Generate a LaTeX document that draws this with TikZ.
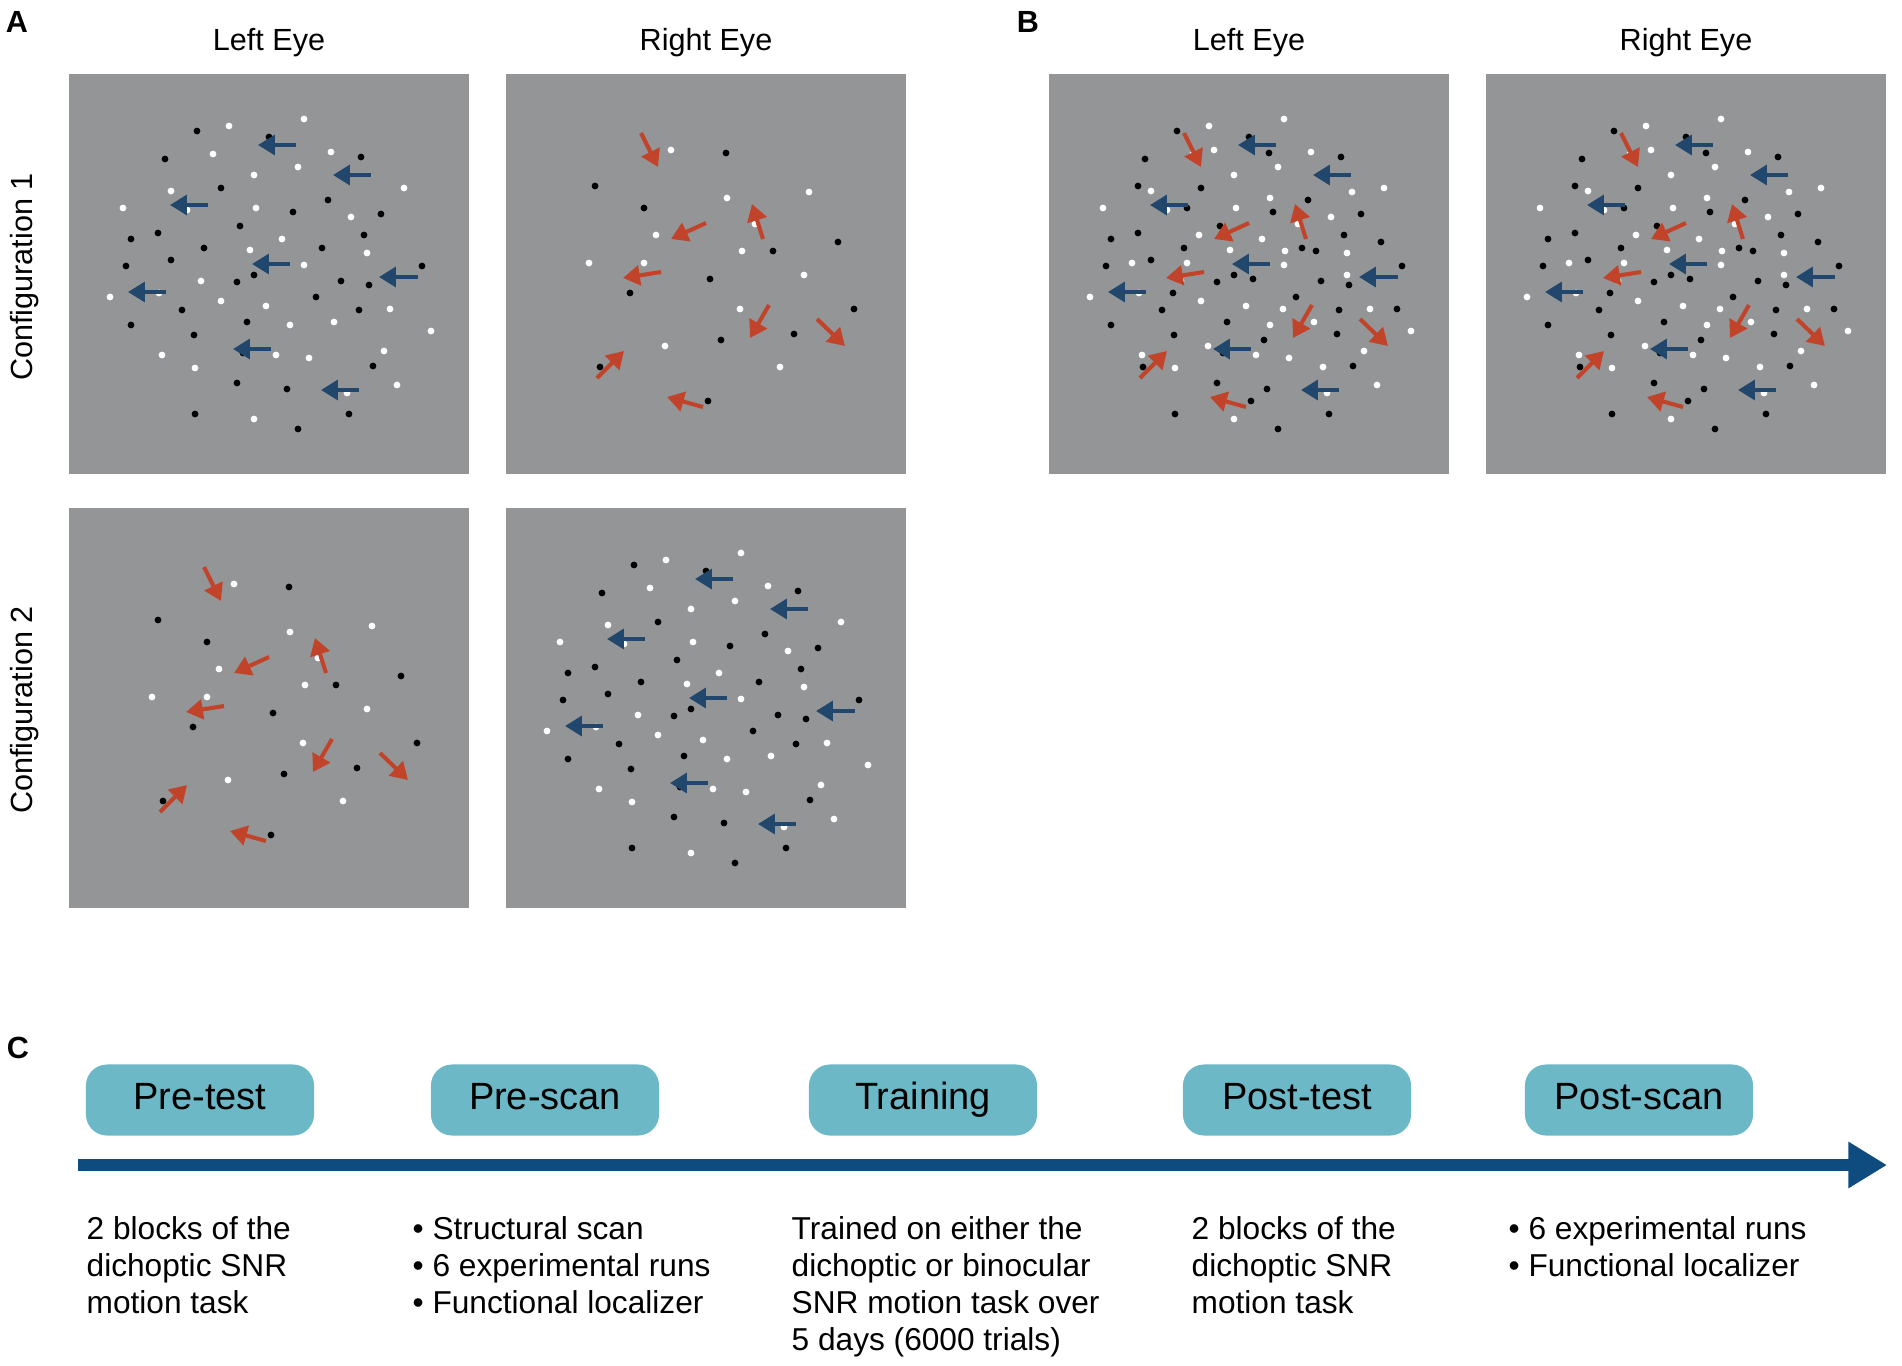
\documentclass[tikz,border=0pt]{standalone}
\usepackage{fontspec}
\setmainfont{Liberation Sans}
\usetikzlibrary{arrows.meta}

\definecolor{panelgray}{RGB}{148,149,151}
\definecolor{leftblue}{RGB}{33,72,108}
\definecolor{rightred}{RGB}{193,68,42}
\definecolor{boxteal}{RGB}{108,184,199}
\definecolor{timeblue}{RGB}{14,76,128}

% dot fields, in pixels from the top left corner of a panel
\newcommand{\whiteA}{235/45, 160/52, 144/80, 262/78, 229/93, 185/101, 335/114, 102/117, 54/134, 187/134, 118/136, 282/143, 213/165, 181/176, 298/179, 235/191, 132/207, 41/223, 90/219, 152/227, 197/232, 321/235, 221/251, 265/248, 362/257, 93/281, 207/281, 240/284, 315/277, 126/294, 278/319, 328/311, 185/345}
\newcommand{\blackA}{128/57, 200/63, 292/83, 96/85, 152/114, 259/126, 224/138, 312/140, 171/152, 89/159, 62/165, 295/161, 135/174, 253/174, 102/186, 57/192, 353/192, 185/201, 168/208, 272/207, 300/211, 247/223, 113/236, 290/236, 62/251, 178/248, 125/261, 174/279, 304/292, 168/309, 218/315, 126/340, 280/340, 229/355}
\newcommand{\arrowsA}{227/71/189/71, 302/101/264/101, 139/131/101/131, 221/190/183/190, 349/203/310/203, 97/218/59/218, 202/275/164/275, 290/316/252/316}
\newcommand{\whiteB}{165/76, 221/124, 303/118, 150/161, 249/150, 236/177, 83/189, 138/189, 298/201, 234/235, 159/272, 274/293}
\newcommand{\blackB}{220/79, 89/112, 138/134, 332/168, 267/177, 204/205, 124/219, 348/235, 288/260, 215/266, 94/293, 202/327}
\newcommand{\arrowsB}{135/59/152/93, 200/149/165/165, 257/165/246/130, 155/198/117/204, 263/231/244/264, 311/245/339/272, 91/304/118/277, 197/333/161/323}

\newcommand{\dotfield}[2]{%
  \foreach \x/\y in #1 \fill[white] (\x,\y) circle[radius=3.4];
  \foreach \x/\y in #2 \fill[black] (\x,\y) circle[radius=3.4];}
\newcommand{\motion}[2]{%
  \foreach \a/\b/\c/\d in #1 \draw[motionarrow,#2] (\a,\b) -- (\c,\d);}

\begin{document}
\begin{tikzpicture}[x=0.01cm,y=-0.01cm,
    motionarrow/.style={line width=1.15pt,-{Triangle[length=4.8pt,width=5.6pt]}},
    eyelabel/.style={font=\fontsize{8.7}{10}\selectfont},
    panelletter/.style={font=\bfseries\fontsize{8.7}{10}\selectfont},
    phase/.style={fill=boxteal,rounded corners=6pt,minimum width=2.28cm,minimum height=0.71cm,
      text height=0.72em,text depth=0.2em,font=\fontsize{10.8}{12}\selectfont},
    phasetext/.style={anchor=north west,inner sep=0pt,align=left,
      font=\fontsize{9}{10.5}\selectfont}]
  \useasboundingbox (0,0) rectangle (1902,1366);

  % panel letters and headings
  \node[panelletter] (letterA) at (17,22) {A};
  \node[panelletter] (letterB) at (1028,22) {B};
  \node[panelletter] (letterC) at (18,1048) {C};
  \node[eyelabel] (leftA) at (269,43) {Left Eye};
  \node[eyelabel] (rightA) at (706,43) {Right Eye};
  \node[eyelabel] (leftB) at (1249,43) {Left Eye};
  \node[eyelabel] (rightB) at (1686,43) {Right Eye};
  \node[eyelabel,rotate=90] (config1) at (25,277) {Configuration 1};
  \node[eyelabel,rotate=90] (config2) at (25,710) {Configuration 2};

  % A, configuration 1
  \begin{scope}[shift={(69,74)}]
    \fill[panelgray] (0,0) rectangle (400,400);
    \dotfield{\whiteA}{\blackA}
    \motion{\arrowsA}{leftblue}
  \end{scope}
  \begin{scope}[shift={(506,74)}]
    \fill[panelgray] (0,0) rectangle (400,400);
    \dotfield{\whiteB}{\blackB}
    \motion{\arrowsB}{rightred}
  \end{scope}
  % A, configuration 2
  \begin{scope}[shift={(69,508)}]
    \fill[panelgray] (0,0) rectangle (400,400);
    \dotfield{\whiteB}{\blackB}
    \motion{\arrowsB}{rightred}
  \end{scope}
  \begin{scope}[shift={(506,508)}]
    \fill[panelgray] (0,0) rectangle (400,400);
    \dotfield{\whiteA}{\blackA}
    \motion{\arrowsA}{leftblue}
  \end{scope}
  % B, both fields in both eyes
  \foreach \px in {1049,1486} {
    \begin{scope}[shift={(\px,74)}]
      \fill[panelgray] (0,0) rectangle (400,400);
      \dotfield{\whiteA}{\blackA}
      \dotfield{\whiteB}{\blackB}
      \motion{\arrowsA}{leftblue}
      \motion{\arrowsB}{rightred}
    \end{scope}
  }

  % C, timeline
  \coordinate (tstart) at (78,1165);
  \coordinate (tend) at (1887,1165);
  \draw[timeblue,line width=3.3pt,-{Triangle[length=11pt,width=12.5pt]}] (tstart) -- (tend);

  \node[phase] (pretest) at (200,1100) {Pre-test};
  \node[phase] (prescan) at (545,1100) {Pre-scan};
  \node[phase] (training) at (923,1100) {Training};
  \node[phase] (posttest) at (1297,1100) {Post-test};
  \node[phase] (postscan) at (1639,1100) {Post-scan};

  \node[phasetext] (pretestinfo) at (86,1213) {\strut 2 blocks of the\\dichoptic SNR\\motion task};
  \node[phasetext] (prescaninfo) at (412,1213) {\strut • Structural scan\\• 6 experimental runs\\• Functional localizer};
  \node[phasetext] (traininginfo) at (791,1213) {\strut Trained on either the\\dichoptic or binocular\\SNR motion task over\\5 days (6000 trials)};
  \node[phasetext] (posttestinfo) at (1191,1213) {\strut 2 blocks of the\\dichoptic SNR\\motion task};
  \node[phasetext] (postscaninfo) at (1508,1213) {\strut • 6 experimental runs\\• Functional localizer};
\end{tikzpicture}
\end{document}
